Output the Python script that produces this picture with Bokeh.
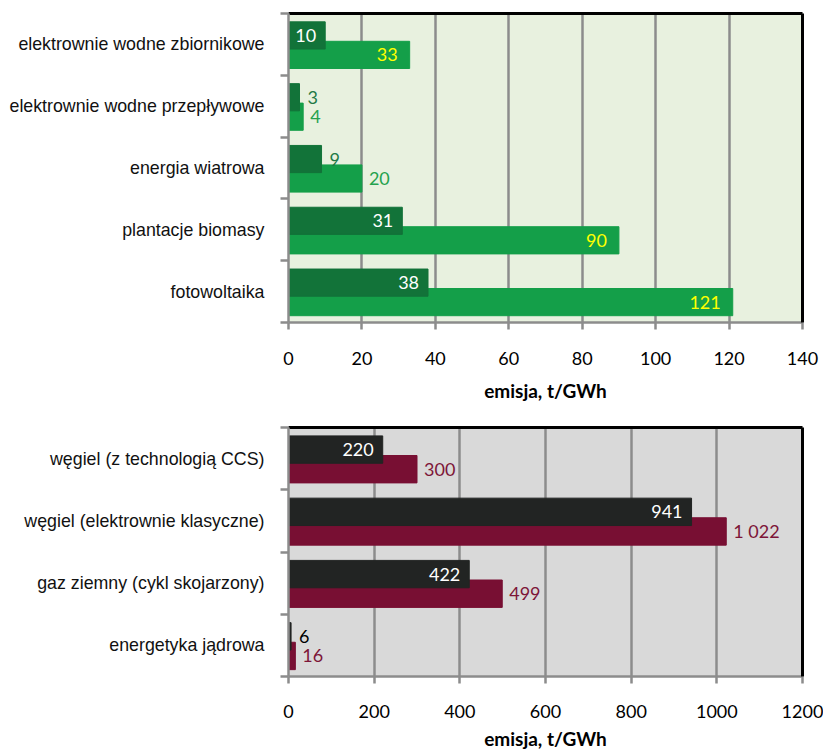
from bokeh.plotting import figure
from bokeh.layouts import column
from bokeh.models import ColumnDataSource, Range1d, FixedTicker, LinearAxis
from bokeh.embed import file_html
from bokeh.resources import INLINE
from bokeh.core.properties import value

# ---------------- data ----------------
top_categories = ["elektrownie wodne zbiornikowe", "elektrownie wodne przepływowe",
                  "energia wiatrowa", "plantacje biomasy", "fotowoltaika"]
top_dark = [10, 3, 9, 31, 38]
top_light = [33, 4, 20, 90, 121]
top_ticks = [0, 20, 40, 60, 80, 100, 120, 140]

bottom_categories = ["węgiel (z technologią CCS)", "węgiel (elektrownie klasyczne)",
                     "gaz ziemny (cykl skojarzony)", "energetyka jądrowa"]
bottom_dark = [220, 941, 422, 6]
bottom_maroon = [300, 1022, 499, 16]
bottom_ticks = [0, 200, 400, 600, 800, 1000, 1200]

axis_title = "emisja, t/GWh"

# label placement styles (inside end / outside end)
top_dark_pos = ["in", "out", "out", "in", "in"]
top_light_pos = ["in", "out", "out", "in", "in"]
bottom_dark_pos = ["in", "in", "in", "out"]
bottom_maroon_pos = ["out", "out", "out", "out"]

GRID = "#8c8c8c"


def fmt(v):
    return f"{v:,}".replace(",", " ")


def make_panel(categories, s1, s2, ticks, pos1, pos2, width, height,
               b_left, b_right, b_top, b_bottom, bg, c1, c2,
               in1, out1, in2, out2, tick_standoff, title_standoff):
    n = len(categories)
    p = figure(width=width, height=height, output_backend="svg", toolbar_location=None,
               x_range=Range1d(ticks[0], ticks[-1]), y_range=Range1d(-0.5, n - 0.5),
               min_border_left=b_left, min_border_right=b_right,
               min_border_top=b_top, min_border_bottom=b_bottom)
    p.background_fill_color = bg
    p.border_fill_color = "white"
    p.outline_line_color = None

    ys = [n - 1 - i for i in range(n)]
    off1, off2, h = 0.145, -0.17, 0.44

    src2 = ColumnDataSource(dict(
        y=[y + off2 for y in ys], v=s2, label=[fmt(v) for v in s2],
        xoff=[-12 if q == "in" else 7 for q in pos2],
        align=["right" if q == "in" else "left" for q in pos2],
        color=[in2 if q == "in" else out2 for q in pos2]))
    src1 = ColumnDataSource(dict(
        y=[y + off1 for y in ys], v=s1, label=[fmt(v) for v in s1],
        xoff=[-9 if q == "in" else 8 for q in pos1],
        align=["right" if q == "in" else "left" for q in pos1],
        color=[in1 if q == "in" else out1 for q in pos1]))

    p.hbar(y="y", left=0, right="v", height=h, source=src2,
           fill_color=c2, line_color=c2)
    p.hbar(y="y", left=0, right="v", height=h, source=src1,
           fill_color=c1, line_color=c1)
    for src in (src2, src1):
        p.text(x="v", y="y", text="label", x_offset="xoff", text_align="align",
               text_color="color", text_baseline="middle",
               text_font=value("Lato"), text_font_size="18px", source=src)

    # grid
    p.ygrid.grid_line_color = None
    p.xgrid.ticker = FixedTicker(ticks=ticks)
    p.xgrid.grid_line_color = GRID
    p.xgrid.grid_line_width = 2.5

    # x axis
    xa = p.xaxis[0]
    xa.ticker = FixedTicker(ticks=ticks)
    xa.axis_line_color = GRID
    xa.axis_line_width = 2.5
    xa.major_tick_line_color = GRID
    xa.major_tick_line_width = 2.5
    xa.major_tick_out = 7
    xa.major_tick_in = 0
    xa.minor_tick_line_color = None
    xa.major_label_text_font = "Lato"
    xa.major_label_text_font_size = "18px"
    xa.major_label_text_color = "black"
    xa.major_label_standoff = tick_standoff
    xa.axis_label = axis_title
    xa.axis_label_text_font = "Lato"
    xa.axis_label_text_font_size = "19px"
    xa.axis_label_text_font_style = "bold"
    xa.axis_label_text_color = "black"
    xa.axis_label_standoff = title_standoff

    # y axis: labels at category centres, ticks at category boundaries
    ya = p.yaxis[0]
    ya.ticker = FixedTicker(ticks=ys, minor_ticks=[k - 0.5 for k in range(n + 1)])
    ya.major_label_overrides = {y: c for y, c in zip(ys, categories)}
    ya.major_tick_out = 0
    ya.major_tick_in = 0
    ya.major_tick_line_color = None
    ya.minor_tick_out = 8
    ya.minor_tick_in = 0
    ya.minor_tick_line_color = GRID
    ya.minor_tick_line_width = 2.5
    ya.axis_line_color = GRID
    ya.axis_line_width = 2.5
    ya.major_label_text_font = "Liberation Sans"
    ya.major_label_text_font_size = "17.8px"
    ya.major_label_text_color = "#111111"
    ya.major_label_standoff = 16

    # black top and right border
    for side in ("above", "right"):
        ax = LinearAxis(ticker=FixedTicker(ticks=[]), axis_line_color="black",
                        axis_line_width=3, major_tick_line_color=None,
                        minor_tick_line_color=None, major_label_text_font_size="0px",
                        major_label_standoff=0)
        p.add_layout(ax, side)
    return p


p1 = make_panel(top_categories, top_dark, top_light, top_ticks, top_dark_pos, top_light_pos,
                823, 410, 288, 16, 13, 88, "#e8f1df", "#127339", "#149f49",
                "white", "#1f7a46", "#ffff00", "#25a24e", 22, 11)
p2 = make_panel(bottom_categories, bottom_dark, bottom_maroon, bottom_ticks,
                bottom_dark_pos, bottom_maroon_pos,
                823, 342, 285, 21, 17, 75, "#d9d9d9", "#222423", "#780f33",
                "white", "black", "white", "#7d1538", 21, 6)

layout = column(p1, p2, spacing=0)
open("out.html", "w").write(file_html(layout, INLINE))
